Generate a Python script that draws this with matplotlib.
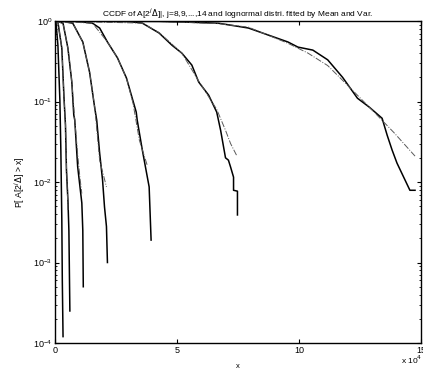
import numpy as np
import matplotlib.pyplot as plt

# empirical CCDF for each scale j (x in units of 1e4)
x8 = [0.0, 0.04, 0.12, 0.20, 0.24, 0.28, 0.30, 0.33]
p8 = [1.0, 0.97, 0.50, 0.105, 0.025, 0.0034, 0.0006, 0.00012]
x9 = [0.0, 0.05, 0.12, 0.28, 0.37, 0.43, 0.47, 0.53, 0.57, 0.61]
p9 = [1.0, 0.99, 0.97, 0.46, 0.11, 0.051, 0.014, 0.006, 0.0025, 0.00025]
x10 = [0.0, 0.12, 0.33, 0.53, 0.69, 0.77, 0.81, 0.93, 1.10, 1.14, 1.16]
p10 = [1.0, 0.986, 0.94, 0.46, 0.175, 0.068, 0.059, 0.0155, 0.0055, 0.0025, 0.0005]
x11 = [0.0, 0.41, 0.73, 1.14, 1.42, 1.63, 1.71, 1.83, 1.95, 2.03, 2.11, 2.15]
p11 = [1.0, 0.986, 0.94, 0.55, 0.23, 0.083, 0.059, 0.023, 0.0106, 0.0049, 0.0028, 0.001]
x12 = [0.0, 1.02, 1.54, 1.83, 2.15, 2.56, 2.93, 3.33, 3.37, 3.58, 3.86, 3.94]
p12 = [1.0, 0.986, 0.94, 0.82, 0.55, 0.35, 0.196, 0.074, 0.059, 0.025, 0.0087, 0.0019]
x13 = [0.0, 3.05, 3.58, 4.27, 4.80, 5.20, 5.61, 5.89, 6.30, 6.63, 6.79, 6.99,
       7.11, 7.20, 7.32, 7.32, 7.48, 7.48]
p13 = [1.0, 0.986, 0.944, 0.71, 0.50, 0.40, 0.284, 0.175, 0.12, 0.074, 0.044, 0.020,
       0.0187, 0.0153, 0.0115, 0.0079, 0.0077, 0.0039]
x14 = [0.0, 4.27, 5.49, 6.71, 7.93, 9.55, 9.96, 10.57, 11.18, 11.79, 12.40,
       12.89, 13.41, 13.62, 13.82, 14.02, 14.55, 14.76]
p14 = [1.0, 0.99, 0.97, 0.94, 0.82, 0.55, 0.475, 0.436, 0.33, 0.20, 0.11,
       0.085, 0.062, 0.038, 0.025, 0.0172, 0.0079, 0.0079]

# lognormal fits (mean / variance matched)
fx9 = [0.0, 0.12, 0.28, 0.37, 0.43, 0.47, 0.53]
fp9 = [1.0, 0.97, 0.46, 0.11, 0.051, 0.016, 0.0045]
fx10 = [0.0, 0.33, 0.53, 0.69, 0.81, 0.93, 1.02, 1.10]
fp10 = [1.0, 0.94, 0.46, 0.175, 0.06, 0.022, 0.0115, 0.0072]
fx11 = [0.0, 0.73, 1.14, 1.42, 1.63, 1.83, 2.11]
fp11 = [1.0, 0.94, 0.55, 0.23, 0.085, 0.0187, 0.0087]
fx12 = [0.0, 1.54, 2.15, 2.56, 2.93, 3.20, 3.46, 3.78]
fp12 = [1.0, 0.94, 0.55, 0.35, 0.196, 0.095, 0.033, 0.0162]
fx13 = [0.0, 3.58, 4.27, 5.20, 5.89, 6.63, 6.99, 7.20, 7.44]
fp13 = [1.0, 0.944, 0.72, 0.40, 0.18, 0.08, 0.044, 0.030, 0.0216]
fx14 = [0.0, 4.27, 6.71, 7.93, 9.55, 10.37, 11.18, 11.99, 13.01, 13.90, 14.76]
fp14 = [1.0, 0.99, 0.93, 0.84, 0.53, 0.40, 0.28, 0.16, 0.078, 0.041, 0.021]

plt.rcParams["font.family"] = ["Liberation Sans", "DejaVu Sans"]
fig = plt.figure(figsize=(4.23, 3.70), dpi=100)
ax = fig.add_axes([0.130, 0.073, 0.865, 0.870])

for xs, ps in [(x8, p8), (x9, p9), (x10, p10), (x11, p11), (x12, p12), (x13, p13), (x14, p14)]:
    ax.plot(xs, ps, "k-", linewidth=1.1)
for xs, ps in [(fx9, fp9), (fx10, fp10), (fx11, fp11), (fx12, fp12), (fx13, fp13), (fx14, fp14)]:
    ax.plot(xs, ps, "-.", color="0.35", linewidth=0.7)

ax.set_yscale("log")
ax.set_xlim(0, 15)
ax.set_ylim(1e-4, 1)
ax.set_xticks([0, 5, 10, 15])
ax.set_xticklabels(["0", "5", "10", "15"])
ax.tick_params(which="both", direction="in", top=True, right=True, labelsize=6.5, pad=2)
ax.tick_params(which="major", length=3)
ax.tick_params(which="minor", length=1.5)
for s in ax.spines.values():
    s.set_linewidth(1.0)

ax.set_title(r"CCDF of A[2$^j\Delta$]|, j=8,9,...,14 and lognormal distri. fitted by Mean and Var.",
             fontsize=6, pad=3)
ax.set_ylabel(r"P[ A[2$^j\Delta$] > x]", fontsize=6.2, labelpad=4)
ax.set_xlabel("x", fontsize=5.5, labelpad=6)
fig.text(0.998, 0.015, r"x 10$^4$", fontsize=6, ha="right")

fig.savefig("out.png", dpi=100)
